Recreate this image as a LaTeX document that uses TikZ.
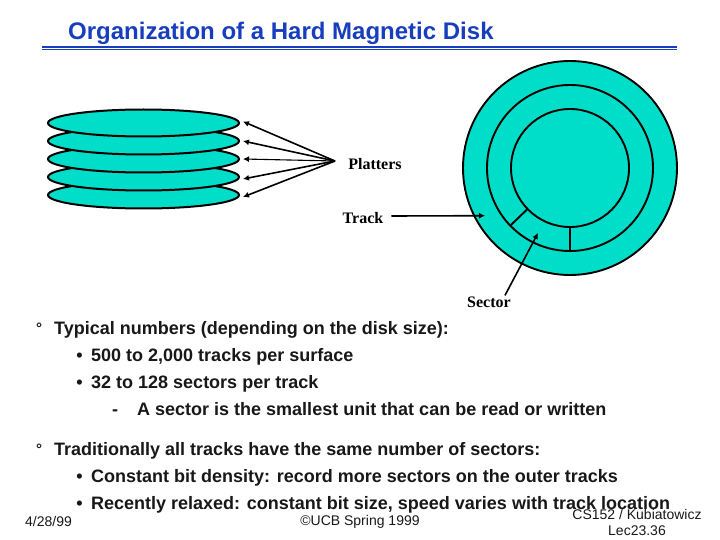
\documentclass[tikz,border=0pt]{standalone}
\usepackage{xcolor}
\usepackage{fontspec}
\setmainfont{Liberation Sans}
\newfontfamily\labelfont{Liberation Serif}
\definecolor{disk}{RGB}{0,221,200}
\definecolor{titleblue}{RGB}{24,62,190}
\definecolor{bodytext}{RGB}{24,24,24}
\usetikzlibrary{shapes.geometric,arrows.meta,positioning}

\begin{document}
\begin{tikzpicture}[x=1pt, y=-1pt, node distance=18pt,
    platter/.style={draw, ellipse, fill=disk, line width=2pt, minimum width=191pt, minimum height=27pt, inner sep=0pt},
    ring/.style={draw, circle, fill=disk, line width=1.9pt, inner sep=0pt},
    caption/.style={font=\labelfont\bfseries\fontsize{16}{16}\selectfont, text=black, inner sep=0pt},
    body/.style={font=\bfseries\fontsize{18}{18}\selectfont, text=bodytext, anchor=base west, inner sep=0pt},
    foot/.style={font=\fontsize{14}{14}\selectfont, text=bodytext, inner sep=0pt},
    line/.style={draw, -{Latex[length=6pt,width=6pt]}, line width=1.6pt}]
    \useasboundingbox (0,0) rectangle (720,540);

    % Title
    \node [anchor=base west, inner sep=0pt, text=titleblue, font=\bfseries\fontsize{24}{24}\selectfont] (title) at (68,40) {Organization of a Hard Magnetic Disk};
    \coordinate (ruleL) at (42,47);
    \coordinate (ruleR) at (677,47);
    \draw [titleblue, line width=2pt] (ruleL) -- (ruleR);
    \draw [titleblue, line width=0.6pt] ([yshift=-2.5pt]ruleL) -- ([yshift=-2.5pt]ruleR);

    % Platter stack
    \node [platter] (platterE) at (143.5,195) {};
    \node [platter, above of=platterE] (platterD) {};
    \node [platter, above of=platterD] (platterC) {};
    \node [platter, above of=platterC] (platterB) {};
    \node [platter, above of=platterB] (platterA) {};

    % Disk surface
    \node [ring, minimum size=214pt] (outer) at (570,168) {};
    \node [ring, minimum size=166pt] (middle) at (570,168) {};
    \node [ring, minimum size=118pt] (inner) at (570,168) {};
    \draw [line width=1.9pt] (inner.-136) -- (middle.-136);
    \draw [line width=1.9pt] (inner.south) -- (middle.south);

    % Labels
    \node [caption] (platters) at (375,164) {Platters};
    \node [caption] (track) at (363,218) {Track};
    \node [caption] (sector) at (489,302) {Sector};
    \coordinate (fan) at (335,161);
    \coordinate (trackEnd) at (485,215.7);
    \coordinate (sectorEnd) at (538,233);

    % Connections
    \path [line] (fan) -- ([shift={(3,-1.5)}]platterA.east);
    \path [line] (fan) -- ([shift={(3,0)}]platterB.east);
    \path [line, line width=1.1pt] (fan) -- ([shift={(3,0)}]platterC.east);
    \path [line] (fan) -- ([shift={(3,2)}]platterD.east);
    \path [line] (fan) -- ([shift={(3,2)}]platterE.east);
    \path [line] (track.east) ++(8,-2) -- (trackEnd);
    \path [line] (sector.north east) ++(-6,-1) -- (sectorEnd);

    % Text
    \node [body] (degA) at (36,333) {\fontsize{15}{15}\selectfont °};
    \node [body] (typical) at (54,334) {Typical numbers (depending on the disk size):};
    \node [body] (tracks) at (91,361) {500 to 2,000 tracks per surface};
    \node [body, left=8pt of tracks.base west, anchor=base east] (bulletA) {•};
    \node [body] (sectors) at (91,388) {32 to 128 sectors per track};
    \node [body, left=8pt of sectors.base west, anchor=base east] (bulletB) {•};
    \node [body] (smallest) at (137,415) {A sector is the smallest unit that can be read or written};
    \node [body] (dash) at (112,415) {-};
    \node [body] (degB) at (36,454) {\fontsize{15}{15}\selectfont °};
    \node [body] (same) at (54,455) {Traditionally all tracks have the same number of sectors:};
    \node [body] (density) at (91,482) {Constant bit density: record more sectors on the outer tracks};
    \node [body, left=8pt of density.base west, anchor=base east] (bulletC) {•};
    \node [body] (relaxed) at (91,509) {Recently relaxed: constant bit size, speed varies with track location};
    \node [body, left=8pt of relaxed.base west, anchor=base east] (bulletD) {•};

    % Footer
    \node [foot] (date) at (48.5,521) {4/28/99};
    \node [foot] (copy) at (360,522) {©UCB Spring 1999};
    \node [foot] (course) at (637,514) {CS152 / Kubiatowicz};
    \node [foot] (lec) at (637,531) {Lec23.36};
\end{tikzpicture}
\end{document}
